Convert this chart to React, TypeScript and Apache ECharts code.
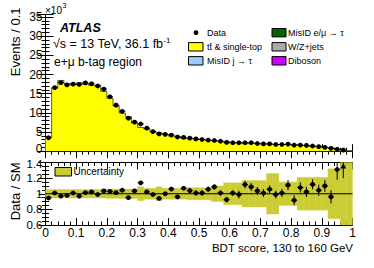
import React, { useEffect, useRef } from 'react';
import * as echarts from 'echarts';

const FONT = "'Liberation Sans', Arial, Helvetica, sans-serif";

// 50 bins of width 0.02 on BDT score [0,1]
const BIN_WIDTH = 0.02;
// Data events (x10^3) per bin
const dataEvents = [3.5, 16.6, 17.9, 17.3, 17.5, 17.4, 17.8, 17.6, 17.0, 16.2, 14.2, 12.0, 10.4, 8.6, 7.6, 7.1, 6.0, 5.1, 4.5, 4.4, 4.2, 3.7, 3.6, 3.4, 3.2, 3.05, 2.9, 2.8, 2.6, 2.3, 2.2, 2.2, 2.2, 2.2, 2.0, 1.9, 1.9, 1.75, 1.75, 1.85, 1.6, 1.6, 1.5, 1.35, 1.2, 1.0, 0.75, 0.5, 0.3, null];
// Predicted (tt & single-top dominated stack) events (x10^3)
const mcEvents = [3.7, 16.4, 18.45, 17.65, 17.3, 17.9, 17.5, 17.2, 17.2, 15.6, 13.8, 11.8, 9.95, 9.05, 7.35, 6.2, 5.85, 5.15, 4.8, 4.4, 3.95, 3.85, 3.35, 3.27, 3.17, 3.0, 2.75, 2.58, 2.57, 2.49, 2.18, 2.22, 1.97, 2.02, 1.93, 1.88, 1.8, 1.77, 1.73, 1.67, 1.74, 1.48, 1.47, 1.2, 1.15, 0.91, 0.78, 0.38, 0.22, 0.12];
// Data / SM ratio
const ratioValues = [0.946, 1.01, 0.97, 0.98, 1.01, 0.97, 1.015, 1.023, 0.99, 1.036, 1.03, 1.015, 1.045, 0.95, 1.036, 1.14, 1.023, 0.99, 0.94, 1.0, 1.06, 0.96, 1.07, 1.04, 1.01, 1.01, 1.058, 1.087, 1.01, 0.925, 1.01, 0.99, 1.118, 1.087, 1.036, 1.01, 1.058, 0.99, 1.01, 1.11, 0.917, 1.08, 1.023, 1.12, 1.045, 1.1, 0.96, 1.31, 1.5, null];
const ratioErrors = [0.01, 0.01, 0.01, 0.01, 0.01, 0.01, 0.01, 0.01, 0.01, 0.01, 0.01, 0.01, 0.01, 0.02, 0.02, 0.02, 0.02, 0.02, 0.02, 0.02, 0.02, 0.02, 0.02, 0.035, 0.035, 0.035, 0.035, 0.035, 0.035, 0.035, 0.035, 0.05, 0.05, 0.05, 0.05, 0.05, 0.05, 0.05, 0.05, 0.065, 0.065, 0.065, 0.065, 0.065, 0.07, 0.075, 0.085, 0.13, 0.3, null];
// Uncertainty band half-width
const bandHalfWidth = [0.055, 0.055, 0.055, 0.055, 0.055, 0.055, 0.055, 0.055, 0.055, 0.055, 0.06, 0.06, 0.06, 0.06, 0.06, 0.09, 0.07, 0.07, 0.09, 0.07, 0.07, 0.07, 0.07, 0.077, 0.077, 0.077, 0.077, 0.1, 0.1, 0.14, 0.14, 0.14, 0.17, 0.17, 0.17, 0.17, 0.26, 0.26, 0.15, 0.15, 0.15, 0.21, 0.21, 0.21, 0.21, 0.21, 0.32, 0.32, 0.6, 0.6];

const legendLeft = [
  { label: 'Data', type: 'marker', color: '#000' },
  { label: 'tt\u0304 & single-top', type: 'box', color: '#ffff00' },
  { label: 'MisID j \u2192 \u03c4', type: 'box', color: '#99ccff' },
];
const legendRight = [
  { label: 'MisID e/\u03bc \u2192 \u03c4', color: '#006400' },
  { label: 'W/Z+jets', color: '#aaaaaa' },
  { label: 'Diboson', color: '#cc00ff' },
];

const BAND_COLOR = '#cccc33';

export default function App() {
  const ref = useRef<HTMLDivElement>(null);
  useEffect(() => {
    if (!ref.current) return;
    const chart = echarts.init(ref.current, undefined, { renderer: 'svg' });

    const stepData: number[][] = mcEvents.map((v, i) => [i * BIN_WIDTH, v]);
    stepData.push([1, mcEvents[mcEvents.length - 1]]);

    const mainPoints = dataEvents
      .map((v, i) => (v == null ? null : [(i + 0.5) * BIN_WIDTH, v]))
      .filter((d) => d != null);
    const ratioPoints = ratioValues
      .map((v, i) => (v == null ? null : [(i + 0.5) * BIN_WIDTH, v, ratioErrors[i]]))
      .filter((d) => d != null);
    const bandData = bandHalfWidth.map((u, i) => [i * BIN_WIDTH, (i + 1) * BIN_WIDTH, 1 - u, 1 + u]);

    const axisLine = { show: true, lineStyle: { color: '#000', width: 1 } };
    const tickCommon = { show: true, inside: true, length: 7, lineStyle: { color: '#000', width: 1 } };

    const xAxisBase = (gridIndex: number, position: string, showLabel: boolean) => ({
      type: 'value',
      gridIndex,
      position,
      min: 0,
      max: 1,
      interval: 0.1,
      axisLine,
      axisTick: tickCommon,
      minorTick: { show: true, splitNumber: 5, length: 3.5, lineStyle: { color: '#000', width: 1 } },
      splitLine: { show: false },
      axisLabel: showLabel
        ? {
            show: true,
            color: '#000',
            fontSize: 12,
            fontFamily: FONT,
            margin: 2,
            formatter: (v: number) => (Math.abs(v) < 1e-9 ? '0' : Math.abs(v - 1) < 1e-9 ? '1' : v.toFixed(1)),
          }
        : { show: false },
    });

    // main panel: the "0" label is drawn separately (slightly lifted) to keep it clear of the ratio's "1.4"
    const yMain = (position: string, showLabel: boolean) => ({
      type: 'value',
      gridIndex: 0,
      position,
      min: 0,
      max: 35.6,
      interval: 5,
      axisLine,
      axisTick: { ...tickCommon, length: 8 },
      minorTick: { show: true, splitNumber: 5, length: 4, lineStyle: { color: '#000', width: 1 } },
      splitLine: { show: false },
      axisLabel: showLabel
        ? {
            show: true,
            color: '#000',
            fontSize: 12,
            fontFamily: FONT,
            margin: 3,
            formatter: (v: number) => {
              const r = Math.round(v / 5) * 5;
              return Math.abs(v - r) < 1e-6 && r > 0 ? String(r) : '';
            },
          }
        : { show: false },
    });

    const yRatio = (position: string, showLabel: boolean) => ({
      type: 'value',
      gridIndex: 1,
      position,
      min: 0.6,
      max: 1.4,
      interval: 0.2,
      axisLine,
      axisTick: { ...tickCommon, length: 7 },
      minorTick: { show: true, splitNumber: 4, length: 3.5, lineStyle: { color: '#000', width: 1 } },
      splitLine: { show: false },
      axisLabel: showLabel
        ? {
            show: true,
            color: '#000',
            fontSize: 11.5,
            fontFamily: FONT,
            margin: 3,
            formatter: (v: number) => (Math.abs(v - 1.4) < 1e-9 ? '' : Math.abs(v - 1) < 1e-9 ? '1' : v.toFixed(1)),
          }
        : { show: false },
    });

    const legendGraphics: any[] = [];
    const rowY = [32.7, 46.8, 60.8];
    legendLeft.forEach((item, i) => {
      if (item.type === 'marker') {
        legendGraphics.push({ type: 'circle', shape: { cx: 196, cy: rowY[i], r: 2.4 }, style: { fill: '#000' } });
      } else {
        legendGraphics.push({
          type: 'rect',
          shape: { x: 188.5, y: rowY[i] - 4.2, width: 14.5, height: 8.4 },
          style: { fill: item.color, stroke: '#000', lineWidth: 1 },
        });
      }
      legendGraphics.push({
        type: 'text',
        x: 207,
        y: rowY[i],
        style: { text: item.label, fontSize: 9, fontFamily: FONT, fill: '#000', verticalAlign: 'middle', align: 'left' },
      });
    });
    legendRight.forEach((item, i) => {
      legendGraphics.push({
        type: 'rect',
        shape: { x: 272, y: rowY[i] - 4.2, width: 14, height: 8.4 },
        style: { fill: item.color, stroke: '#000', lineWidth: 1 },
      });
      legendGraphics.push({
        type: 'text',
        x: 288,
        y: rowY[i],
        style: { text: item.label, fontSize: 9, fontFamily: FONT, fill: '#000', verticalAlign: 'middle', align: 'left' },
      });
    });

    const option: any = {
      animation: false,
      backgroundColor: '#fff',
      grid: [
        { left: 45.5, right: 21.5, top: 14.7, height: 136.5 },
        { left: 45.5, right: 21.5, top: 162.5, height: 62.5 },
      ],
      xAxis: [xAxisBase(0, 'bottom', false), xAxisBase(0, 'top', false), xAxisBase(1, 'bottom', true), xAxisBase(1, 'top', false)],
      yAxis: [yMain('left', true), yMain('right', false), yRatio('left', true), yRatio('right', false)],
      series: [
        {
          type: 'line',
          xAxisIndex: 0,
          yAxisIndex: 0,
          step: 'end',
          data: stepData,
          symbol: 'none',
          lineStyle: { color: '#333', width: 0.8 },
          areaStyle: { color: '#ffff00', opacity: 1 },
          z: 2,
        },
        {
          type: 'custom',
          xAxisIndex: 0,
          yAxisIndex: 0,
          data: mainPoints,
          z: 5,
          renderItem: (params: any, api: any) => {
            const p = api.coord([api.value(0), api.value(1)]);
            const l = api.coord([api.value(0) - BIN_WIDTH / 2, api.value(1)]);
            const r = api.coord([api.value(0) + BIN_WIDTH / 2, api.value(1)]);
            return {
              type: 'group',
              children: [
                { type: 'line', shape: { x1: l[0], y1: p[1], x2: r[0], y2: p[1] }, style: { stroke: '#000', lineWidth: 1 } },
                { type: 'circle', shape: { cx: p[0], cy: p[1], r: 2.4 }, style: { fill: '#000' } },
              ],
            };
          },
        },
        {
          type: 'custom',
          xAxisIndex: 2,
          yAxisIndex: 2,
          data: bandData,
          z: 2,
          renderItem: (params: any, api: any) => {
            const lo = Math.max(api.value(2), 0.6);
            const hi = Math.min(api.value(3), 1.4);
            const a = api.coord([api.value(0), hi]);
            const b = api.coord([api.value(1), lo]);
            return {
              type: 'rect',
              shape: { x: a[0], y: a[1], width: b[0] - a[0], height: b[1] - a[1] },
              style: { fill: BAND_COLOR, stroke: BAND_COLOR, lineWidth: 0.3 },
            };
          },
        },
        {
          type: 'line',
          xAxisIndex: 2,
          yAxisIndex: 2,
          data: [
            [0, 1],
            [1, 1],
          ],
          symbol: 'none',
          lineStyle: { color: '#000', width: 1 },
          z: 3,
        },
        {
          type: 'custom',
          xAxisIndex: 2,
          yAxisIndex: 2,
          data: ratioPoints,
          z: 5,
          renderItem: (params: any, api: any) => {
            const xc = api.value(0);
            const v = api.value(1);
            const e = api.value(2);
            const top = Math.min(v + e, 1.4);
            const bot = Math.max(v - e, 0.6);
            const pv = api.coord([xc, Math.min(v, 1.4)]);
            const pt = api.coord([xc, top]);
            const pb = api.coord([xc, bot]);
            const l = api.coord([xc - BIN_WIDTH / 2, v]);
            const r = api.coord([xc + BIN_WIDTH / 2, v]);
            const children: any[] = [
              { type: 'line', shape: { x1: pv[0], y1: pt[1], x2: pv[0], y2: pb[1] }, style: { stroke: '#000', lineWidth: 1 } },
            ];
            if (v > 1.4) {
              const y0 = pv[1];
              children.push({
                type: 'polygon',
                shape: { points: [[pv[0], y0 + 0.5], [pv[0] - 3, y0 + 6], [pv[0] + 3, y0 + 6]] },
                style: { fill: '#000' },
              });
            } else {
              children.push({ type: 'line', shape: { x1: l[0], y1: pv[1], x2: r[0], y2: pv[1] }, style: { stroke: '#000', lineWidth: 1 } });
              children.push({ type: 'circle', shape: { cx: pv[0], cy: pv[1], r: 2.4 }, style: { fill: '#000' } });
            }
            return { type: 'group', children };
          },
        },
      ],
      graphic: [
        {
          type: 'text',
          x: 42.5,
          y: 149,
          style: { text: '0', fontSize: 12, fontFamily: FONT, fill: '#000', verticalAlign: 'middle', align: 'right' },
        },
        {
          type: 'text',
          x: 42.5,
          y: 164,
          style: { text: '1.4', fontSize: 11.5, fontFamily: FONT, fill: '#000', verticalAlign: 'middle', align: 'right' },
        },
        {
          type: 'text',
          x: 45,
          y: 10,
          style: { text: '\u00d710', fontSize: 10, fontFamily: FONT, fill: '#000', verticalAlign: 'middle', align: 'left' },
        },
        {
          type: 'text',
          x: 62.5,
          y: 5.5,
          style: { text: '3', fontSize: 7, fontFamily: FONT, fill: '#000', verticalAlign: 'middle', align: 'left' },
        },
        {
          type: 'text',
          x: 60,
          y: 28.3,
          style: { text: 'ATLAS', fontSize: 12.5, fontWeight: 'bold', fontStyle: 'italic', fontFamily: FONT, fill: '#000', verticalAlign: 'middle', align: 'left' },
        },
        {
          type: 'text',
          x: 53,
          y: 44,
          style: {
            text: '\u221as = 13 TeV, 36.1 fb{sup|-1}',
            fontSize: 12.5,
            fontFamily: FONT,
            fill: '#000',
            verticalAlign: 'middle',
            align: 'left',
            rich: { sup: { fontSize: 8, fontFamily: FONT, fill: '#000', verticalAlign: 'top', padding: [0, 0, 7, 0] } },
          },
        },
        {
          type: 'text',
          x: 54,
          y: 62,
          style: { text: 'e+\u03bc b-tag region', fontSize: 12, fontFamily: FONT, fill: '#000', verticalAlign: 'middle', align: 'left' },
        },
        {
          type: 'text',
          x: 15,
          y: 7.5,
          rotation: Math.PI / 2,
          style: { text: 'Events / 0.1', fontSize: 13, fontFamily: FONT, fill: '#000', verticalAlign: 'middle', align: 'right' },
        },
        {
          type: 'text',
          x: 15,
          y: 162.5,
          rotation: Math.PI / 2,
          style: { text: 'Data / SM', fontSize: 13, fontFamily: FONT, fill: '#000', verticalAlign: 'middle', align: 'right' },
        },
        {
          type: 'text',
          x: 353,
          y: 247.5,
          style: { text: 'BDT score, 130 to 160 GeV', fontSize: 11.5, fontFamily: FONT, fill: '#000', verticalAlign: 'middle', align: 'right' },
        },
        {
          type: 'rect',
          shape: { x: 55, y: 167.5, width: 16.5, height: 8.5 },
          style: { fill: BAND_COLOR, stroke: '#000', lineWidth: 1 },
        },
        {
          type: 'text',
          x: 73.5,
          y: 171.7,
          style: { text: 'Uncertainty', fontSize: 10, fontFamily: FONT, fill: '#000', verticalAlign: 'middle', align: 'left' },
        },
        ...legendGraphics,
      ],
    };
    chart.setOption(option);
    return () => chart.dispose();
  }, []);
  return <div ref={ref} style={{ position: 'fixed', left: 0, top: 0, width: 374, height: 268, background: '#fff' }} />;
}
